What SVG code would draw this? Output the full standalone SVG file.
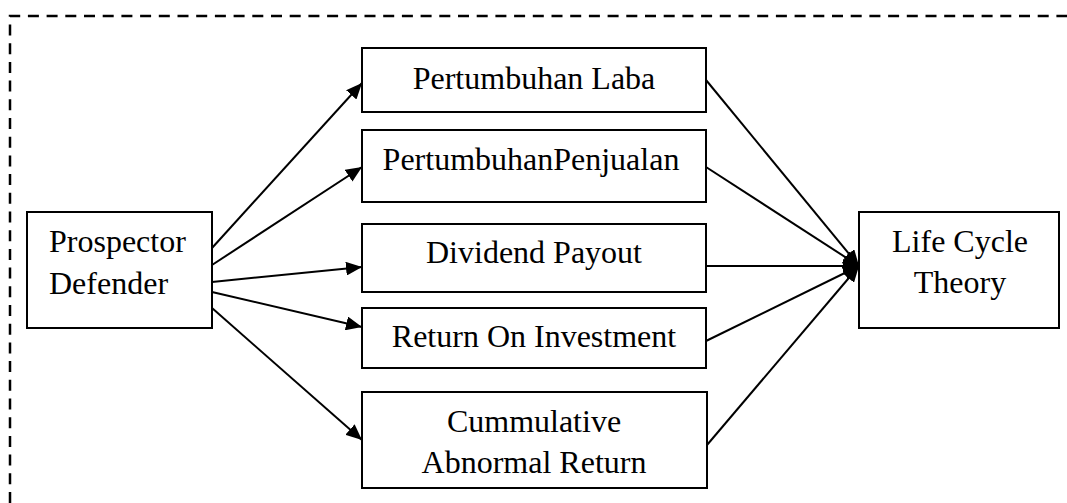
<svg xmlns="http://www.w3.org/2000/svg" width="1067" height="503" viewBox="0 0 1067 503">
<style>
.box{fill:#fff;stroke:#000;stroke-width:2}
.t{font-family:"Liberation Serif","Times New Roman",serif;font-size:32px;fill:#000}
.c{text-anchor:middle}
.ln{stroke:#000;stroke-width:2;fill:none;marker-end:url(#ah)}
.frame{stroke:#000;stroke-width:2.5;fill:none;stroke-dasharray:11 7.7}
</style>
<defs>
<marker id="ah" markerUnits="userSpaceOnUse" markerWidth="17" markerHeight="14" refX="16" refY="7" orient="auto">
<path d="M0,0 L16,7 L0,14 z" fill="#000"/>
</marker>
</defs>
<rect width="1067" height="503" fill="#fff"/>
<path class="frame" d="M10,503 V16 H1067"/>
<g id="connectors">
<line class="ln" x1="212" y1="248" x2="362" y2="83"/>
<line class="ln" x1="212" y1="265" x2="362" y2="167"/>
<line class="ln" x1="212" y1="282" x2="362" y2="267"/>
<line class="ln" x1="212" y1="292" x2="362" y2="327"/>
<line class="ln" x1="212" y1="308" x2="362" y2="440"/>
<line class="ln" x1="706" y1="80" x2="859" y2="266"/>
<line class="ln" x1="706" y1="167" x2="859" y2="266"/>
<line class="ln" x1="706" y1="266" x2="859" y2="266"/>
<line class="ln" x1="706" y1="341" x2="859" y2="266"/>
<line class="ln" x1="707" y1="445" x2="859" y2="266"/>
</g>
<g id="prospector">
<rect class="box" x="27" y="212" width="185" height="116"/>
<text class="t" x="49" y="252">Prospector</text>
<text class="t" x="49" y="294">Defender</text>
</g>
<g id="laba">
<rect class="box" x="362" y="48" width="344" height="64"/>
<text class="t c" x="534" y="89">Pertumbuhan Laba</text>
</g>
<g id="penjualan">
<rect class="box" x="362" y="130" width="344" height="72"/>
<text class="t c" x="531" y="170">PertumbuhanPenjualan</text>
</g>
<g id="dividend">
<rect class="box" x="362" y="224" width="344" height="68"/>
<text class="t c" x="534" y="263">Dividend Payout</text>
</g>
<g id="roi">
<rect class="box" x="362" y="308" width="344" height="60"/>
<text class="t c" x="534" y="347">Return On Investment</text>
</g>
<g id="car">
<rect class="box" x="362" y="392" width="345" height="96"/>
<text class="t c" x="534" y="432">Cummulative</text>
<text class="t c" x="534" y="473">Abnormal Return</text>
</g>
<g id="lifecycle">
<rect class="box" x="859" y="212" width="200" height="116"/>
<text class="t c" x="960" y="252">Life Cycle</text>
<text class="t c" x="960" y="293">Theory</text>
</g>
</svg>
